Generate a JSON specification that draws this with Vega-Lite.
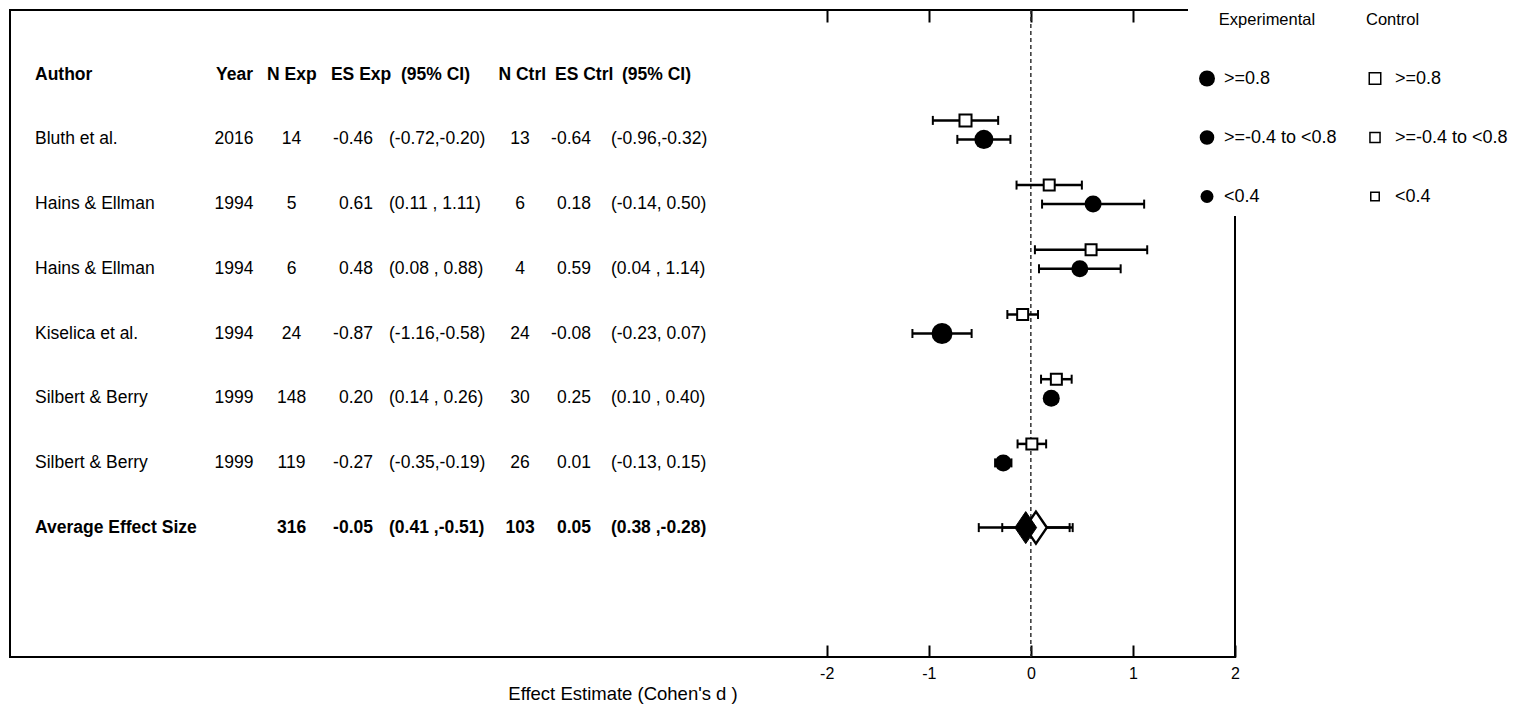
{
  "$schema": "https://vega.github.io/schema/vega-lite/v6.json",
  "width": 1225,
  "height": 647,
  "autosize": {"type": "none"},
  "padding": {"left": 10, "top": 10, "right": 278, "bottom": 57},
  "background": "white",
  "config": {"view": {"stroke": "black", "strokeWidth": 2}, "font": "Liberation Sans"},
  "datasets": {
    "header": [
      {"row": 0, "author": "Author", "year": "Year", "nexp": "N Exp", "esexp": "ES Exp", "ciexp": "(95% CI)", "nctrl": "N Ctrl", "esctrl": "ES Ctrl", "cictrl": "(95% CI)"}
    ],
    "table": [
      {"row": 1, "author": "Bluth et al.", "year": "2016", "nexp": "14", "esexp": "-0.46", "ciexp": "(-0.72,-0.20)", "nctrl": "13", "esctrl": "-0.64", "cictrl": "(-0.96,-0.32)"},
      {"row": 2, "author": "Hains & Ellman", "year": "1994", "nexp": "5", "esexp": "0.61", "ciexp": "(0.11 , 1.11)", "nctrl": "6", "esctrl": "0.18", "cictrl": "(-0.14, 0.50)"},
      {"row": 3, "author": "Hains & Ellman", "year": "1994", "nexp": "6", "esexp": "0.48", "ciexp": "(0.08 , 0.88)", "nctrl": "4", "esctrl": "0.59", "cictrl": "(0.04 , 1.14)"},
      {"row": 4, "author": "Kiselica et al.", "year": "1994", "nexp": "24", "esexp": "-0.87", "ciexp": "(-1.16,-0.58)", "nctrl": "24", "esctrl": "-0.08", "cictrl": "(-0.23, 0.07)"},
      {"row": 5, "author": "Silbert & Berry", "year": "1999", "nexp": "148", "esexp": "0.20", "ciexp": "(0.14 , 0.26)", "nctrl": "30", "esctrl": "0.25", "cictrl": "(0.10 , 0.40)"},
      {"row": 6, "author": "Silbert & Berry", "year": "1999", "nexp": "119", "esexp": "-0.27", "ciexp": "(-0.35,-0.19)", "nctrl": "26", "esctrl": "0.01", "cictrl": "(-0.13, 0.15)"},
      {"row": 7, "author": "Average Effect Size", "year": "", "nexp": "316", "esexp": "-0.05", "ciexp": "(0.41 ,-0.51)", "nctrl": "103", "esctrl": "0.05", "cictrl": "(0.38 ,-0.28)"}
    ],
    "markers": [
      {"row": 1, "group": "Experimental", "es": -0.46, "lo": -0.72, "hi": -0.20, "cat": ">=-0.4 to <0.8"},
      {"row": 1, "group": "Control", "es": -0.64, "lo": -0.96, "hi": -0.32, "cat": ">=-0.4 to <0.8"},
      {"row": 2, "group": "Experimental", "es": 0.61, "lo": 0.11, "hi": 1.11, "cat": "<0.4"},
      {"row": 2, "group": "Control", "es": 0.18, "lo": -0.14, "hi": 0.50, "cat": "<0.4"},
      {"row": 3, "group": "Experimental", "es": 0.48, "lo": 0.08, "hi": 0.88, "cat": "<0.4"},
      {"row": 3, "group": "Control", "es": 0.59, "lo": 0.04, "hi": 1.14, "cat": "<0.4"},
      {"row": 4, "group": "Experimental", "es": -0.87, "lo": -1.16, "hi": -0.58, "cat": ">=0.8"},
      {"row": 4, "group": "Control", "es": -0.08, "lo": -0.23, "hi": 0.07, "cat": "<0.4"},
      {"row": 5, "group": "Experimental", "es": 0.20, "lo": 0.14, "hi": 0.26, "cat": "<0.4"},
      {"row": 5, "group": "Control", "es": 0.25, "lo": 0.10, "hi": 0.40, "cat": "<0.4"},
      {"row": 6, "group": "Experimental", "es": -0.27, "lo": -0.35, "hi": -0.19, "cat": "<0.4"},
      {"row": 6, "group": "Control", "es": 0.01, "lo": -0.13, "hi": 0.15, "cat": "<0.4"}
    ],
    "avg": [
      {"row": 7, "group": "Experimental", "es": -0.05, "lo": -0.51, "hi": 0.41},
      {"row": 7, "group": "Control", "es": 0.05, "lo": -0.28, "hi": 0.38}
    ]
  },
  "layer": [
    {
      "data": {"name": "header"},
      "mark": {"type": "rule", "strokeDash": [4, 3], "strokeWidth": 1.5, "color": "#333333"},
      "encoding": {
        "x": {"datum": 0, "type": "quantitative", "scale": {"domain": [-10, 2], "nice": false, "zero": false},
          "axis": {"orient": "top", "values": [-2, -1, 0, 1], "domain": false, "grid": false, "labels": false, "ticks": true, "tickSize": -12, "tickWidth": 2, "tickColor": "black", "title": null}}
      }
    },
    {
      "data": {"name": "markers"},
      "transform": [{"filter": "datum.group === 'Control'"}],
      "mark": {"type": "rule", "strokeWidth": 2.5, "color": "black", "yOffset": -19},
      "encoding": {
        "x": {"field": "lo", "type": "quantitative", "scale": {"domain": [-10, 2], "nice": false, "zero": false},
          "axis": {"orient": "bottom", "values": [-2, -1, 0, 1, 2], "domain": false, "grid": false, "ticks": true, "tickSize": -12, "tickWidth": 2, "tickColor": "black",
            "labelFont": "Liberation Sans", "labelFontSize": 16, "labelColor": "black", "labelPadding": 20, "labelFlush": false, "labelOverlap": false, "labelExpr": "'' + datum.value",
            "title": "Effect Estimate (Cohen's d )", "titleFont": "Liberation Sans", "titleFontSize": 18.5, "titleFontWeight": "normal", "titleColor": "black", "titlePadding": 3}},
        "x2": {"field": "hi"},
        "y": {"field": "row", "type": "quantitative", "scale": {"domain": [-1, 9], "reverse": true, "nice": false, "zero": false}, "axis": null}
      }
    },
    {
      "data": {"name": "markers"},
      "transform": [{"filter": "datum.group === 'Control'"}, {"fold": ["lo", "hi"], "as": ["end", "xv"]}],
      "mark": {"type": "tick", "orient": "vertical", "size": 9, "thickness": 2, "color": "black", "opacity": 1, "yOffset": -19},
      "encoding": {
        "x": {"field": "xv", "type": "quantitative", "axis": null},
        "y": {"field": "row", "type": "quantitative", "axis": null}
      }
    },
    {
      "data": {"name": "markers"},
      "transform": [{"filter": "datum.group === 'Control'"}],
      "mark": {"type": "point", "shape": "square", "filled": true, "fill": "white", "stroke": "black", "strokeWidth": 2, "opacity": 1, "yOffset": -19},
      "encoding": {
        "x": {"field": "es", "type": "quantitative", "axis": null},
        "y": {"field": "row", "type": "quantitative", "axis": null},
        "size": {"field": "cat", "type": "ordinal",
          "scale": {"domain": [">=0.8", ">=-0.4 to <0.8", "<0.4"], "range": [169, 121, 81]},
          "legend": null}
      }
    },
    {
      "data": {"name": "markers"},
      "transform": [{"filter": "datum.group === 'Control'"}],
      "mark": {"type": "point", "shape": "square", "filled": false, "color": "black", "strokeWidth": 1.5, "opacity": 0, "yOffset": -19},
      "encoding": {
        "x": {"field": "es", "type": "quantitative", "axis": null},
        "y": {"field": "row", "type": "quantitative", "axis": null},
        "size": {"field": "cat", "type": "ordinal",
          "scale": {"domain": [">=0.8", ">=-0.4 to <0.8", "<0.4"], "range": [132, 72, 30]},
          "legend": {"title": "Control", "orient": "none", "legendX": 1346, "legendY": -8, "direction": "vertical", "fillColor": "white", "padding": 10,
            "titleFont": "Liberation Sans", "titleFontSize": 16.5, "titleFontWeight": "normal", "titleColor": "black", "titleAnchor": "start", "titlePadding": 41,
            "labelFont": "Liberation Sans", "labelFontSize": 18, "labelColor": "black", "labelOffset": 11, "rowPadding": 41,
            "symbolType": "square", "symbolStrokeColor": "black", "symbolStrokeWidth": 1.5, "symbolOpacity": 1}
        }
      }
    },
    {
      "data": {"name": "markers"},
      "transform": [{"filter": "datum.group === 'Experimental'"}],
      "mark": {"type": "rule", "strokeWidth": 2.5, "color": "black"},
      "encoding": {
        "x": {"field": "lo", "type": "quantitative", "axis": null},
        "x2": {"field": "hi"},
        "y": {"field": "row", "type": "quantitative", "axis": null}
      }
    },
    {
      "data": {"name": "markers"},
      "transform": [{"filter": "datum.group === 'Experimental'"}, {"fold": ["lo", "hi"], "as": ["end", "xv"]}],
      "mark": {"type": "tick", "orient": "vertical", "size": 9, "thickness": 2, "color": "black", "opacity": 1},
      "encoding": {
        "x": {"field": "xv", "type": "quantitative", "axis": null},
        "y": {"field": "row", "type": "quantitative", "axis": null}
      }
    },
    {
      "data": {"name": "markers"},
      "transform": [{"filter": "datum.group === 'Experimental'"}],
      "mark": {"type": "point", "shape": "circle", "filled": true, "color": "black", "strokeWidth": 0, "opacity": 1},
      "encoding": {
        "x": {"field": "es", "type": "quantitative", "axis": null},
        "y": {"field": "row", "type": "quantitative", "axis": null},
        "size": {"field": "cat", "type": "ordinal",
          "scale": {"domain": [">=0.8", ">=-0.4 to <0.8", "<0.4"], "range": [441, 289, 169]},
          "legend": null}
      }
    },
    {
      "data": {"name": "markers"},
      "transform": [{"filter": "datum.group === 'Experimental'"}],
      "mark": {"type": "point", "shape": "circle", "filled": true, "color": "black", "strokeWidth": 0, "opacity": 0},
      "encoding": {
        "x": {"field": "es", "type": "quantitative", "axis": null},
        "y": {"field": "row", "type": "quantitative", "axis": null},
        "size": {"field": "cat", "type": "ordinal",
          "scale": {"domain": [">=0.8", ">=-0.4 to <0.8", "<0.4"], "range": [256, 169, 81]},
          "legend": {"title": "Experimental", "orient": "none", "legendX": 1178, "legendY": -8, "direction": "vertical", "fillColor": "white", "padding": 10,
            "titleFont": "Liberation Sans", "titleFontSize": 16.5, "titleFontWeight": "normal", "titleColor": "black", "titleAnchor": "middle", "titlePadding": 41,
            "labelFont": "Liberation Sans", "labelFontSize": 18, "labelColor": "black", "labelOffset": 8, "rowPadding": 41,
            "symbolType": "circle", "symbolFillColor": "black", "symbolStrokeColor": "black", "symbolStrokeWidth": 0, "symbolOpacity": 1}
        }
      }
    },
    {
      "data": {"name": "avg"},
      "mark": {"type": "rule", "strokeWidth": 2.5, "color": "black"},
      "encoding": {
        "x": {"field": "lo", "type": "quantitative", "axis": null},
        "x2": {"field": "hi"},
        "y": {"field": "row", "type": "quantitative", "axis": null}
      }
    },
    {
      "data": {"name": "avg"},
      "transform": [{"fold": ["lo", "hi"], "as": ["end", "xv"]}],
      "mark": {"type": "tick", "orient": "vertical", "size": 9, "thickness": 2, "color": "black", "opacity": 1},
      "encoding": {
        "x": {"field": "xv", "type": "quantitative", "axis": null},
        "y": {"field": "row", "type": "quantitative", "axis": null}
      }
    },
    {
      "data": {"name": "avg"},
      "transform": [{"filter": "datum.group === 'Control'"}],
      "mark": {"type": "point", "shape": "M0,-1L0.68,0L0,1L-0.68,0Z", "size": 1024, "filled": true, "fill": "white", "stroke": "black", "strokeWidth": 2.5, "opacity": 1},
      "encoding": {
        "x": {"field": "es", "type": "quantitative", "axis": null},
        "y": {"field": "row", "type": "quantitative", "axis": null}
      }
    },
    {
      "data": {"name": "avg"},
      "transform": [{"filter": "datum.group === 'Experimental'"}],
      "mark": {"type": "point", "shape": "M0,-1L0.68,0L0,1L-0.68,0Z", "size": 1024, "filled": true, "fill": "black", "stroke": "black", "strokeWidth": 1, "opacity": 1},
      "encoding": {
        "x": {"field": "es", "type": "quantitative", "axis": null},
        "y": {"field": "row", "type": "quantitative", "axis": null}
      }
    },
    {"data": {"name": "header"}, "mark": {"type": "text", "align": "left", "baseline": "middle", "font": "Liberation Sans", "fontSize": 17.5, "fontWeight": "bold", "color": "black"},
      "encoding": {"x": {"datum": -9.755, "type": "quantitative", "axis": null}, "y": {"field": "row", "type": "quantitative", "axis": null}, "text": {"field": "author"}}},
    {"data": {"name": "header"}, "mark": {"type": "text", "align": "left", "baseline": "middle", "font": "Liberation Sans", "fontSize": 17.5, "fontWeight": "bold", "color": "black"},
      "encoding": {"x": {"datum": -7.982, "type": "quantitative", "axis": null}, "y": {"field": "row", "type": "quantitative", "axis": null}, "text": {"field": "year"}}},
    {"data": {"name": "header"}, "mark": {"type": "text", "align": "left", "baseline": "middle", "font": "Liberation Sans", "fontSize": 17.5, "fontWeight": "bold", "color": "black"},
      "encoding": {"x": {"datum": -7.482, "type": "quantitative", "axis": null}, "y": {"field": "row", "type": "quantitative", "axis": null}, "text": {"field": "nexp"}}},
    {"data": {"name": "header"}, "mark": {"type": "text", "align": "left", "baseline": "middle", "font": "Liberation Sans", "fontSize": 17.5, "fontWeight": "bold", "color": "black"},
      "encoding": {"x": {"datum": -6.856, "type": "quantitative", "axis": null}, "y": {"field": "row", "type": "quantitative", "axis": null}, "text": {"field": "esexp"}}},
    {"data": {"name": "header"}, "mark": {"type": "text", "align": "left", "baseline": "middle", "font": "Liberation Sans", "fontSize": 17.5, "fontWeight": "bold", "color": "black"},
      "encoding": {"x": {"datum": -6.170, "type": "quantitative", "axis": null}, "y": {"field": "row", "type": "quantitative", "axis": null}, "text": {"field": "ciexp"}}},
    {"data": {"name": "header"}, "mark": {"type": "text", "align": "left", "baseline": "middle", "font": "Liberation Sans", "fontSize": 17.5, "fontWeight": "bold", "color": "black"},
      "encoding": {"x": {"datum": -5.215, "type": "quantitative", "axis": null}, "y": {"field": "row", "type": "quantitative", "axis": null}, "text": {"field": "nctrl"}}},
    {"data": {"name": "header"}, "mark": {"type": "text", "align": "left", "baseline": "middle", "font": "Liberation Sans", "fontSize": 17.5, "fontWeight": "bold", "color": "black"},
      "encoding": {"x": {"datum": -4.661, "type": "quantitative", "axis": null}, "y": {"field": "row", "type": "quantitative", "axis": null}, "text": {"field": "esctrl"}}},
    {"data": {"name": "header"}, "mark": {"type": "text", "align": "left", "baseline": "middle", "font": "Liberation Sans", "fontSize": 17.5, "fontWeight": "bold", "color": "black"},
      "encoding": {"x": {"datum": -4.005, "type": "quantitative", "axis": null}, "y": {"field": "row", "type": "quantitative", "axis": null}, "text": {"field": "cictrl"}}},
    {"data": {"name": "table"}, "mark": {"type": "text", "align": "left", "baseline": "middle", "font": "Liberation Sans", "fontSize": 17.5, "fontWeight": {"expr": "datum.row == 7 ? 'bold' : 'normal'"}, "color": "black"},
      "encoding": {"x": {"datum": -9.755, "type": "quantitative", "axis": null}, "y": {"field": "row", "type": "quantitative", "axis": null}, "text": {"field": "author"}}},
    {"data": {"name": "table"}, "mark": {"type": "text", "align": "center", "baseline": "middle", "font": "Liberation Sans", "fontSize": 17.5, "fontWeight": {"expr": "datum.row == 7 ? 'bold' : 'normal'"}, "color": "black"},
      "encoding": {"x": {"datum": -7.806, "type": "quantitative", "axis": null}, "y": {"field": "row", "type": "quantitative", "axis": null}, "text": {"field": "year"}}},
    {"data": {"name": "table"}, "mark": {"type": "text", "align": "center", "baseline": "middle", "font": "Liberation Sans", "fontSize": 17.5, "fontWeight": {"expr": "datum.row == 7 ? 'bold' : 'normal'"}, "color": "black"},
      "encoding": {"x": {"datum": -7.242, "type": "quantitative", "axis": null}, "y": {"field": "row", "type": "quantitative", "axis": null}, "text": {"field": "nexp"}}},
    {"data": {"name": "table"}, "mark": {"type": "text", "align": "right", "baseline": "middle", "font": "Liberation Sans", "fontSize": 17.5, "fontWeight": {"expr": "datum.row == 7 ? 'bold' : 'normal'"}, "color": "black"},
      "encoding": {"x": {"datum": -6.444, "type": "quantitative", "axis": null}, "y": {"field": "row", "type": "quantitative", "axis": null}, "text": {"field": "esexp"}}},
    {"data": {"name": "table"}, "mark": {"type": "text", "align": "left", "baseline": "middle", "font": "Liberation Sans", "fontSize": 17.5, "fontWeight": {"expr": "datum.row == 7 ? 'bold' : 'normal'"}, "color": "black"},
      "encoding": {"x": {"datum": -6.287, "type": "quantitative", "axis": null}, "y": {"field": "row", "type": "quantitative", "axis": null}, "text": {"field": "ciexp"}}},
    {"data": {"name": "table"}, "mark": {"type": "text", "align": "center", "baseline": "middle", "font": "Liberation Sans", "fontSize": 17.5, "fontWeight": {"expr": "datum.row == 7 ? 'bold' : 'normal'"}, "color": "black"},
      "encoding": {"x": {"datum": -5.004, "type": "quantitative", "axis": null}, "y": {"field": "row", "type": "quantitative", "axis": null}, "text": {"field": "nctrl"}}},
    {"data": {"name": "table"}, "mark": {"type": "text", "align": "right", "baseline": "middle", "font": "Liberation Sans", "fontSize": 17.5, "fontWeight": {"expr": "datum.row == 7 ? 'bold' : 'normal'"}, "color": "black"},
      "encoding": {"x": {"datum": -4.309, "type": "quantitative", "axis": null}, "y": {"field": "row", "type": "quantitative", "axis": null}, "text": {"field": "esctrl"}}},
    {"data": {"name": "table"}, "mark": {"type": "text", "align": "left", "baseline": "middle", "font": "Liberation Sans", "fontSize": 17.5, "fontWeight": {"expr": "datum.row == 7 ? 'bold' : 'normal'"}, "color": "black"},
      "encoding": {"x": {"datum": -4.113, "type": "quantitative", "axis": null}, "y": {"field": "row", "type": "quantitative", "axis": null}, "text": {"field": "cictrl"}}}
  ],
  "resolve": {"scale": {"size": "independent"}, "legend": {"size": "independent"}, "axis": {"x": "independent"}}
}
